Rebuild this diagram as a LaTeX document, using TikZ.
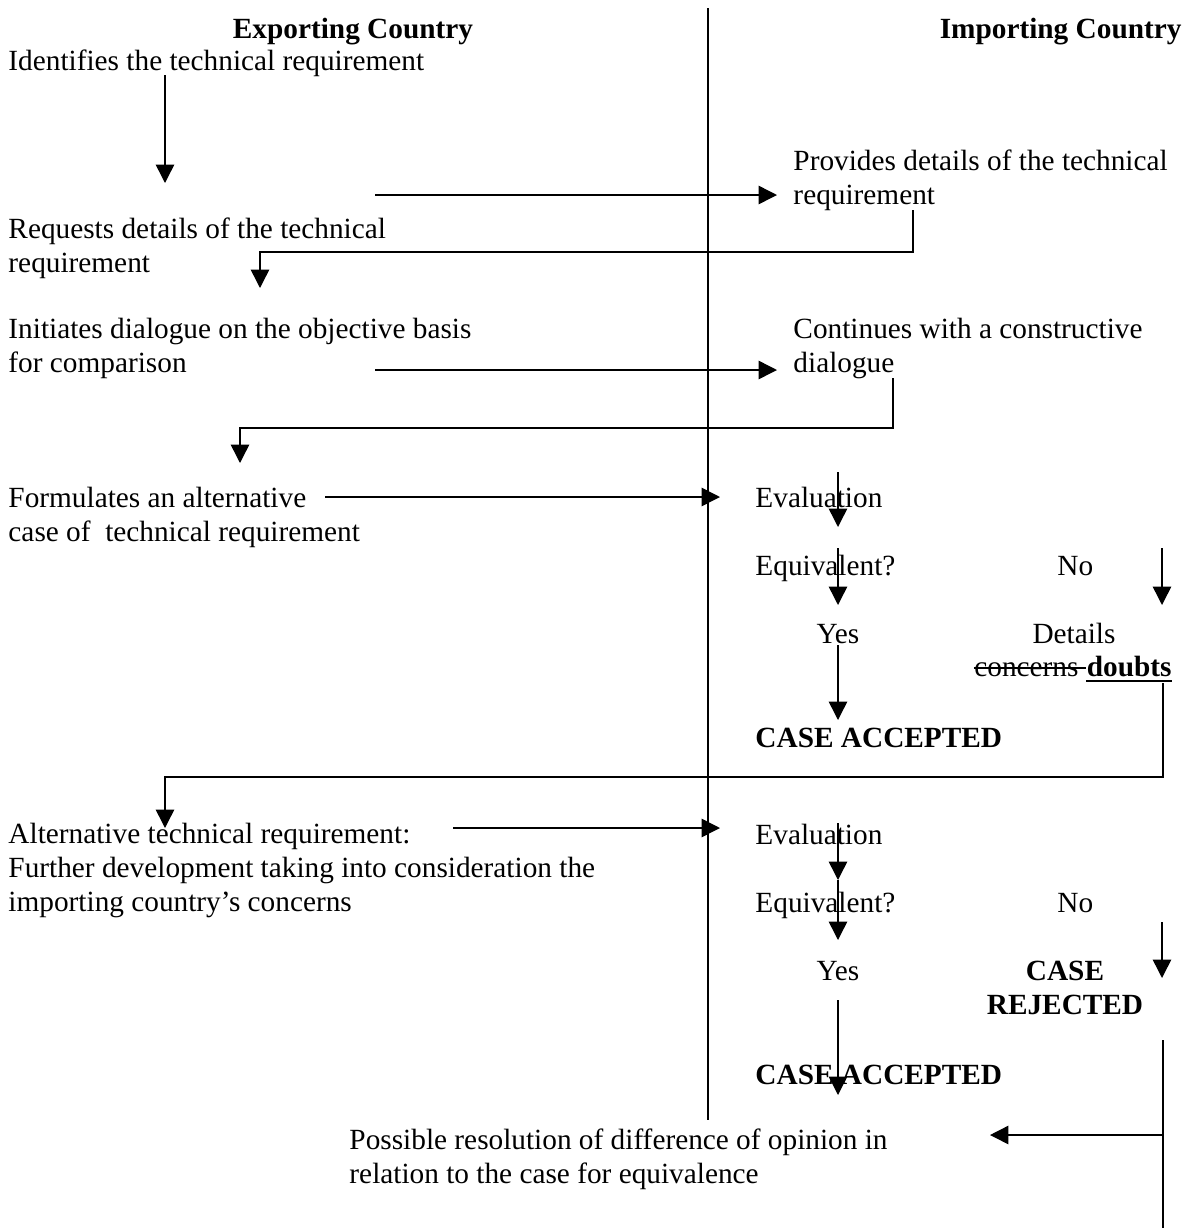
\documentclass[tikz,border=0pt]{standalone}
\usepackage{fontspec}
\setmainfont{Liberation Serif}
\usetikzlibrary{arrows.meta,positioning,calc}

\begin{document}
\begin{tikzpicture}[
    x=0.4096pt, y=-0.4096pt,
    txt/.style={inner sep=0pt, anchor=base west, align=left, font=\fontsize{12}{13.8}\selectfont},
    boldtxt/.style={txt, font=\fontsize{12}{13.8}\selectfont\bfseries},
    flow/.style={-{Triangle[length=7.5pt,width=7.5pt]}, line width=0.6pt},
    link/.style={line width=0.6pt}
  ]
  \useasboundingbox (0,0) rectangle (1190,1228);

  % Divider between the two countries
  \coordinate (divtop) at (708,8);
  \coordinate (divbot) at (708,1120);
  \draw[link] (divtop) -- (divbot);

  % Column headers
  \node[boldtxt, anchor=base] (hexp) at (353,38) {Exporting Country};
  \node[boldtxt, anchor=base east] (himp) at (1182,38) {Importing Country};

  % Exporting country steps (multi-line nodes sit on their last line)
  \node[txt] (ident) at (8,70) {Identifies the technical requirement};
  \node[txt] (reqst) at (8,272) {Requests details of the technical\\requirement};
  \node[txt] (init) at (8,372) {Initiates dialogue on the objective basis\\for comparison};
  \node[txt] (formul) at (8,541) {Formulates an alternative\\case of\ \ technical requirement};
  \node[txt] (altreq) at (8,911) {Alternative technical requirement:\\Further development taking into consideration the\\importing country's concerns};
  \node[txt] (resol) at (349,1183) {Possible resolution of difference of opinion in\\relation to the case for equivalence};

  % Importing country steps
  \node[txt] (provid) at (793,204) {Provides details of the technical\\requirement};
  \node[txt] (contin) at (793,372) {Continues with a constructive\\dialogue};

  % First evaluation
  \node[txt] (evalA) at (755,507) {Evaluation};
  \node[txt] (equivA) at (755,575) {Equivalent?};
  \node[txt] (noA) at (1057,575) {No};
  \node[txt, anchor=base] (yesA) at (838,643) {Yes};
  \node[txt, anchor=base] (detl) at (1074,643) {Details};
  \node[boldtxt, anchor=base east] (doubt) at (1172,676) {doubts};
  \node[txt, anchor=base east] (concern) at (doubt.base west) {concerns\ };
  \draw[line width=0.45pt] ($(concern.base west)+(0,-8)$) -- ($(concern.base east)+(0,-8)$);
  \draw[line width=0.8pt] ($(doubt.base west)+(0,5)$) -- ($(doubt.base east)+(0,5)$);
  \node[boldtxt] (accA) at (755,747) {CASE ACCEPTED};

  % Second evaluation
  \node[txt] (evalB) at (755,844) {Evaluation};
  \node[txt] (equivB) at (755,912) {Equivalent?};
  \node[txt] (noB) at (1057,912) {No};
  \node[txt, anchor=base] (yesB) at (838,980) {Yes};
  \node[boldtxt, anchor=base, align=center] (reject) at (1065,1014) {CASE\\REJECTED};
  \node[boldtxt] (accB) at (755,1084) {CASE ACCEPTED};

  % Free ends of the connectors
  \coordinate (a1) at (165,75);   \coordinate (a2) at (165,183);
  \coordinate (b1) at (375,195);  \coordinate (b2) at (777,195);
  \coordinate (c1) at (913,210);  \coordinate (c2) at (260,252);  \coordinate (c3) at (260,288);
  \coordinate (d1) at (375,370);  \coordinate (d2) at (777,370);
  \coordinate (e1) at (893,378);  \coordinate (e2) at (240,428);  \coordinate (e3) at (240,463);
  \coordinate (f1) at (325,497);  \coordinate (f2) at (720,497);
  \coordinate (g1) at (1163,683); \coordinate (g2) at (165,777);  \coordinate (g3) at (165,828);
  \coordinate (h1) at (453,828);  \coordinate (h2) at (720,828);
  \coordinate (k1) at (1163,1040); \coordinate (k2) at (1163,1228);
  \coordinate (k3) at (1163,1135); \coordinate (k4) at (990,1135);

  % Exporting side
  \draw[flow] (a1) -- (a2);
  \draw[flow] (b1) -- (b2);
  \draw[flow] (c1) |- (c2) -- (c3);
  \draw[flow] (d1) -- (d2);
  \draw[flow] (e1) |- (e2) -- (e3);
  \draw[flow] (f1) -- (f2);
  \draw[flow] (g1) |- (g2) -- (g3);
  \draw[flow] (h1) -- (h2);

  % Evaluation chains
  \draw[flow] (838,472) -- (838,527);
  \draw[flow] (838,548) -- (838,605);
  \draw[flow] (1162,548) -- (1162,605);
  \draw[flow] (838,645) -- (838,720);
  \draw[flow] (838,823) -- (838,880);
  \draw[flow] (838,880) -- (838,940);
  \draw[flow] (1162,922) -- (1162,978);
  \draw[flow] (838,1000) -- (838,1095);

  % Rejection leads to resolution
  \draw[link] (k1) -- (k2);
  \draw[flow] (k3) -- (k4);
\end{tikzpicture}
\end{document}
